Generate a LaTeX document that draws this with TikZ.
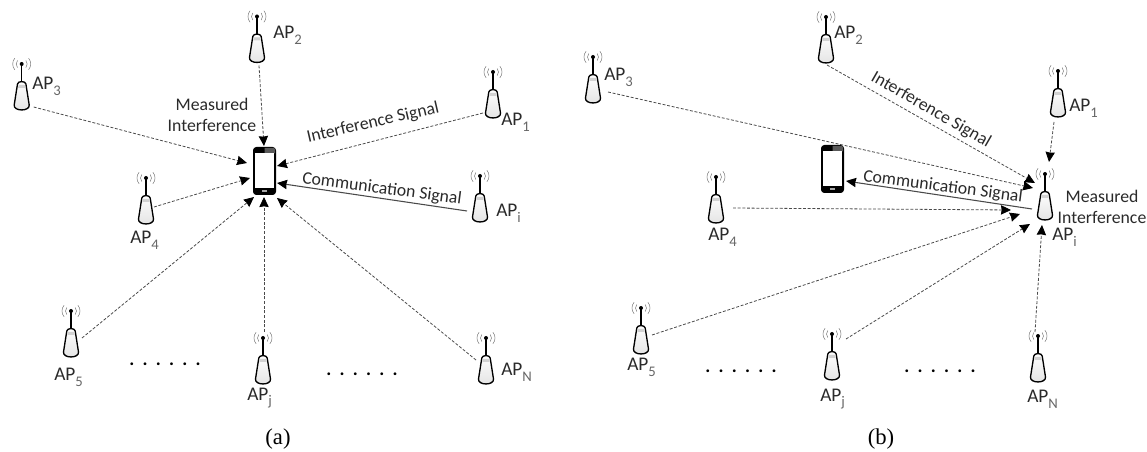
\documentclass[tikz,border=0pt]{standalone}
\usepackage{fontspec}
\setmainfont{Carlito}
\newfontfamily\capfont{Liberation Serif}
\usetikzlibrary{arrows.meta}
\definecolor{ink}{HTML}{2A2A2A}
\definecolor{wire}{HTML}{4A4A4A}
\tikzset{
  x=0.75pt,y=-0.75pt,
  apbody/.style={minimum width=11.25pt,minimum height=19.5pt,inner sep=0pt,outer sep=0pt},
  phonebox/.style={minimum width=17.25pt,minimum height=36pt,inner sep=0pt,outer sep=0pt},
  sig/.style={draw=wire,line width=0.6pt,dash pattern=on 2.2pt off 1.3pt,-{Stealth[length=7.5pt,width=7pt,inset=0.5pt,color=black]}},
  comm/.style={draw=wire,line width=0.8pt,-{Stealth[length=7.5pt,width=7pt,inset=0.5pt,color=black]}},
  lab/.style={font=\fontsize{13.3}{15.75}\selectfont,text=ink,inner sep=0pt,align=center},
  aplab/.style={font=\fontsize{14.5}{16}\selectfont,text=ink,inner sep=0pt,anchor=west},
  dotlab/.style={font=\fontsize{14}{15}\bfseries\selectfont,text=black,inner sep=0pt},
  caplab/.style={font=\capfont\fontsize{17}{18}\selectfont,text=black,inner sep=0pt},
}
\newcommand{\apsub}[1]{\raisebox{-0.3em}{\fontsize{11}{11}\selectfont\color{gray!80!black}#1}}
\newcommand{\sixdots}{.\hspace{6.2pt}.\hspace{6.2pt}.\hspace{6.2pt}.\hspace{6.2pt}.\hspace{6.2pt}.}
% #1 name, #2 x of antenna dot, #3 y of antenna dot
\newcommand{\apdraw}[3]{%
  \begin{scope}[shift={(#2,#3)}]
    \draw[gray,line width=0.4pt] (-4.2,-3.5) arc[start angle=220,end angle=140,radius=5.5];
    \draw[gray,line width=0.4pt] (4.2,-3.5) arc[start angle=-40,end angle=40,radius=5.5];
    \draw[gray,line width=0.4pt] (-6.9,-5.8) arc[start angle=220,end angle=140,radius=9];
    \draw[gray,line width=0.4pt] (6.9,-5.8) arc[start angle=-40,end angle=40,radius=9];
    \draw[black,line width=1pt] (0,0) -- (0,18);
    \fill[black] (0,0) circle[radius=2];
    \draw[black,line width=1pt,top color=white,bottom color=gray!22] (-7.5,41) -- (-4.2,20) .. controls (-3.9,16.8) and (3.9,16.8) .. (4.2,20) -- (7.5,41) .. controls (8.3,47.6) and (-8.3,47.6) .. (-7.5,41) -- cycle;
    \fill[gray!35] (-3,21) -- (3,21) -- (3.6,24) -- (-3.6,24) -- cycle;
    \node[apbody] (#1) at (0,32) {};
  \end{scope}}
% #1 name, #2 left, #3 top
\newcommand{\phonedraw}[3]{%
  \begin{scope}[shift={(#2,#3)}]
    \fill[black,rounded corners=2.5pt] (0,0) rectangle (23,48);
    \fill[gray!70!black] (11.5,0.8) -- (20.5,0.8) -- (22,2) -- (22,6.5) -- (11.5,6.5) -- cycle;
    \fill[white] (1.7,6.5) rectangle (21.3,41);
    \fill[gray!70] (9,43.5) rectangle (14,45);
    \node[phonebox] (#1) at (11.5,24) {};
  \end{scope}}
\begin{document}
\begin{tikzpicture}
\useasboundingbox (0,0) rectangle (1147,452);
% ---------- panel (a)
\apdraw{aa}{493}{72}\apdraw{ab}{257}{16.5}\apdraw{ac}{21.7}{64}\apdraw{ad}{146}{178}
\apdraw{ae}{71}{311}\apdraw{af}{263}{338}\apdraw{ag}{486}{338}\apdraw{ah}{480}{176}
\phonedraw{pa}{253}{147}
\draw[sig] ([shift={(-10,9)}]aa.center) -- ([shift={(12.5,-5)}]pa.center);
\draw[sig] ([shift={(2,17)}]ab.center) -- ([shift={(-0.5,-25)}]pa.center);
\draw[sig] ([shift={(12,11)}]ac.center) -- ([shift={(-17.5,-8)}]pa.center);
\draw[sig] ([shift={(8,-3)}]ad.center) -- ([shift={(-14.5,7)}]pa.center);
\draw[sig] ([shift={(11,-5)}]ae.center) -- ([shift={(-10.5,26)}]pa.center);
\draw[sig] ([shift={(1,-38)}]af.center) -- ([shift={(-0.5,26)}]pa.center);
\draw[sig] ([shift={(-10,-10)}]ag.center) -- ([shift={(12.5,27)}]pa.center);
\draw[comm] ([shift={(-13,3)}]ah.center) -- ([shift={(12.5,12)}]pa.center);
\node[aplab] (la2) at (273,35) {AP\apsub{2}};
\node[aplab] (la3) at (32,86) {AP\apsub{3}};
\node[aplab] (la1) at (501,122) {AP\apsub{1}};
\node[aplab] (lai) at (496,213) {AP\apsub{i}};
\node[aplab] (la4) at (130,240) {AP\apsub{4}};
\node[aplab] (la5) at (54,377) {AP\apsub{5}};
\node[aplab] (laj) at (247,398) {AP\apsub{j}};
\node[aplab] (laN) at (501,372) {AP\apsub{N}};
\node[lab] (ma) at (212,114.5) {Measured\\Interference};
\node[lab,rotate=13] (ia) at (373,123) {Interference Signal};
\node[lab,rotate=-7.5] (ca) at (382,189) {Communication Signal};
\node[dotlab] (da1) at (165,364) {\sixdots};
\node[dotlab] (da2) at (362,374) {\sixdots};
\node[caplab] (capa) at (278,439) {(a)};
% ---------- panel (b)
\apdraw{ba}{1058}{71}\apdraw{bb}{826}{17}\apdraw{bc}{593}{57}\apdraw{bd}{716}{177}
\apdraw{be}{641}{308}\apdraw{bf}{832}{334}\apdraw{bg}{1038}{336}\apdraw{bh}{1045}{174}
\phonedraw{pb}{821}{145}
\draw[sig] ([shift={(-4,19)}]ba.center) -- ([shift={(4,-44)}]bh.center);
\draw[sig] ([shift={(1,16)}]bb.center) -- ([shift={(-10,-23)}]bh.center);
\draw[sig] ([shift={(15,3)}]bc.center) -- ([shift={(-12,-18)}]bh.center);
\draw[sig] ([shift={(17,-1)}]bd.center) -- ([shift={(-34,4)}]bh.center);
\draw[sig] ([shift={(11,-5)}]be.center) -- ([shift={(-25,8)}]bh.center);
\draw[sig] ([shift={(14,-27)}]bf.center) -- ([shift={(-15,18)}]bh.center);
\draw[sig] ([shift={(-3,-36)}]bg.center) -- ([shift={(-3,19)}]bh.center);
\draw[comm] ([shift={(-13,3)}]bh.center) -- ([shift={(13.5,12)}]pb.center);
\node[aplab] (lb2) at (834,35) {AP\apsub{2}};
\node[aplab] (lb3) at (604,77) {AP\apsub{3}};
\node[aplab] (lb1) at (1069,108) {AP\apsub{1}};
\node[aplab] (lbi) at (1052,237) {AP\apsub{i}};
\node[aplab] (lb4) at (708,237) {AP\apsub{4}};
\node[aplab] (lb5) at (627,367) {AP\apsub{5}};
\node[aplab] (lbj) at (820,399) {AP\apsub{j}};
\node[aplab] (lbN) at (1027,399) {AP\apsub{N}};
\node[lab] (mb) at (1102,206.5) {Measured\\Interference};
\node[lab,rotate=-30] (ib) at (931,110) {Interference Signal};
\node[lab,rotate=-7.3] (cb) at (943,187) {Communication Signal};
\node[dotlab] (db1) at (741,371) {\sixdots};
\node[dotlab] (db2) at (940,371) {\sixdots};
\node[caplab] (capb) at (881,439) {(b)};
\end{tikzpicture}
\end{document}
